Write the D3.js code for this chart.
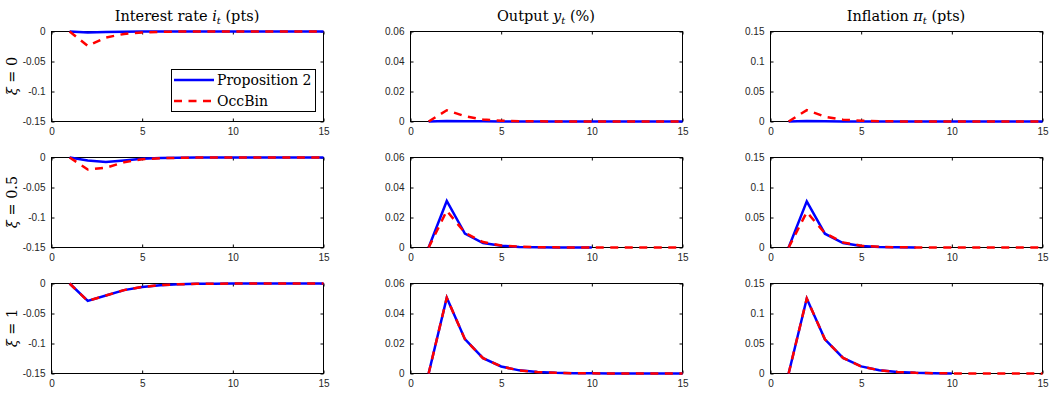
<!DOCTYPE html>
<html><head><meta charset="utf-8">
<script src="https://cdn.jsdelivr.net/npm/d3@7"></script>
<style>body{margin:0;background:#fff}svg{display:block}</style>
</head><body>
<svg id="c" width="1051" height="398"></svg>
<script>
const periods = [1,2,3,4,5,6,7,8,9,10,11,12,13,14,15];
const xTicks = [0,5,10,15];
const seriesNames = ["Proposition 2","OccBin"];
const rowLabels = ["0","0.5","1"];
const colTitles = [["Interest rate ","i","t"," (pts)"],["Output ","y","t"," (%)"],["Inflation ","π","t"," (pts)"]];
const yTicksInterest = [-0.15,-0.1,-0.05,0];
const yTicksOutput = [0,0.02,0.04,0.06];
const yTicksInflation = [0,0.05,0.1,0.15];
const yDomainInterest = [-0.15,0];
const yDomainOutput = [0,0.06];
const yDomainInflation = [0,0.15];

// xi = 0
const intProp_xi0 = [0,-0.0015,-0.0009,-0.0004,-0.0002,-0.0001,0,0,0,0,0,0,0,0,0];
const intOcc_xi0  = [0,-0.024,-0.010,-0.004,-0.0015,-0.0006,-0.0002,-0.0001,0,0,0,0,0,0,0];
const outProp_xi0 = [0,0.0003,0.0002,0.0001,0,0,0,0,0,0,0,0,0,0,0];
const outOcc_xi0  = [0,0.0075,0.0035,0.0013,0.0005,0.0002,0.0001,0,0,0,0,0,0,0,0];
const infProp_xi0 = [0,0.0008,0.0004,0.0002,0.0001,0,0,0,0,0,0,0,0,0,0];
const infOcc_xi0  = [0,0.019,0.008,0.003,0.0012,0.0005,0.0002,0.0001,0,0,0,0,0,0,0];
// xi = 0.5
const intProp_xi05 = [0,-0.005,-0.0075,-0.005,-0.002,-0.0008,-0.0003,-0.0001,0,0,0,0,0,0,0];
const intOcc_xi05  = [0,-0.020,-0.017,-0.008,-0.003,-0.0012,-0.0005,-0.0002,-0.0001,0,0,0,0,0,0];
const outProp_xi05 = [0,0.031,0.0093,0.003,0.0011,0.0004,0.00015,0.00005,0.00002,0.00001];
const outOcc_xi05  = [0,0.0245,0.0098,0.0036,0.0013,0.0005,0.0002,0.0001,0,0,0,0,0,0,0];
const infProp_xi05 = [0,0.077,0.023,0.0075,0.0026,0.0009,0.0003,0.0001];
const infOcc_xi05  = [0,0.059,0.024,0.0085,0.003,0.0011,0.0004,0.00015,0.00005,0,0,0,0,0,0];
// xi = 1
const intProp_xi1 = [0,-0.029,-0.020,-0.011,-0.0057,-0.0028,-0.0013,-0.0006,-0.0003,-0.00015,-0.00007,0,0,0,0];
const intOcc_xi1  = [0,-0.029,-0.020,-0.011,-0.0057,-0.0028,-0.0013,-0.0006,-0.0003,-0.00015,-0.00007,0,0,0,0];
const outProp_xi1 = [0,0.0505,0.0229,0.0102,0.0047,0.0021,0.001,0.00045,0.0002,0.0001,0.00005,0,0,0,0];
const outOcc_xi1  = [0,0.0505,0.0229,0.0102,0.0047,0.0021,0.001,0.00045,0.0002,0.0001,0.00005,0,0,0,0];
const infProp_xi1 = [0,0.125,0.057,0.026,0.0118,0.0054,0.0025,0.0011,0.0005,0.0002];
const infOcc_xi1  = [0,0.125,0.057,0.026,0.0118,0.0054,0.0025,0.0011,0.0005,0.0002,0,0,0,0,0];

const panels = [
  [[intProp_xi0,intOcc_xi0],[outProp_xi0,outOcc_xi0],[infProp_xi0,infOcc_xi0]],
  [[intProp_xi05,intOcc_xi05],[outProp_xi05,outOcc_xi05],[infProp_xi05,infOcc_xi05]],
  [[intProp_xi1,intOcc_xi1],[outProp_xi1,outOcc_xi1],[infProp_xi1,infOcc_xi1]]
];
const yDomains = [yDomainInterest,yDomainOutput,yDomainInflation];
const yTicks = [yTicksInterest,yTicksOutput,yTicksInflation];

const colLeft = [51,410,770], rowTop = [31,157,283], W = 272, H = 90;
const svg = d3.select("#c");
const serif = "'DejaVu Serif',serif";
const sans = "'Liberation Sans',Arial,sans-serif";
const tickLen = 3;

for (let r=0;r<3;r++){
  for (let c=0;c<3;c++){
    const g = svg.append("g").attr("transform",`translate(${colLeft[c]+0.5},${rowTop[r]+0.5})`);
    const x = d3.scaleLinear().domain([0,15]).range([0,W]);
    const y = d3.scaleLinear().domain(yDomains[c]).range([H,0]);
    const cid = `clip${r}${c}`;
    g.append("clipPath").attr("id",cid).append("rect").attr("x",-2).attr("y",-3).attr("width",W+4).attr("height",H+6);
    const fmt = d => d===0 ? "0" : String(d);
    const axB = d3.axisBottom(x).tickValues(xTicks).tickSizeInner(-tickLen).tickSizeOuter(0).tickPadding(6).tickFormat(d3.format("d"));
    const axT = d3.axisTop(x).tickValues(xTicks).tickSizeInner(-tickLen).tickSizeOuter(0).tickFormat("");
    const axL = d3.axisLeft(y).tickValues(yTicks[c]).tickSizeInner(-tickLen).tickSizeOuter(0).tickPadding(6).tickFormat(fmt);
    const axR = d3.axisRight(y).tickValues(yTicks[c]).tickSizeInner(-tickLen).tickSizeOuter(0).tickFormat("");
    [[axB,`translate(0,${H})`],[axT,"translate(0,0)"],[axL,"translate(0,0)"],[axR,`translate(${W},0)`]].forEach(([ax,t])=>{
      const a = g.append("g").attr("transform",t).call(ax);
      a.select(".domain").remove();
      a.selectAll("line").attr("stroke","#000").attr("stroke-width",1);
      a.selectAll("text").attr("font-family",sans).attr("font-size",10).attr("fill","#262626");
    });
    g.append("rect").attr("width",W).attr("height",H).attr("fill","none").attr("stroke","#000").attr("stroke-width",1);
    const line = d3.line().x((d,i)=>x(periods[i])).y(d=>y(d));
    const [blue,red] = panels[r][c];
    const lg = g.append("g").attr("clip-path",`url(#${cid})`);
    lg.append("path").attr("d",line(blue)).attr("fill","none").attr("stroke","#0000ff").attr("stroke-width",2.5);
    lg.append("path").attr("d",line(red)).attr("fill","none").attr("stroke","#ff0000").attr("stroke-width",2.5).attr("stroke-dasharray","8,6.5");
    if (r===0){
      const t = svg.append("text").attr("x",colLeft[c]+W/2).attr("y",21).attr("text-anchor","middle")
        .attr("font-family",serif).attr("font-size",14.5).attr("fill","#000");
      const p = colTitles[c];
      t.append("tspan").text(p[0]);
      t.append("tspan").attr("font-style","italic").text(p[1]);
      t.append("tspan").attr("font-style","italic").attr("font-size",10).attr("dy",3).text(p[2]);
      t.append("tspan").attr("dy",-3).text(p[3]);
    }
    if (c===0){
      const cy = rowTop[r]+H/2;
      const t = svg.append("text").attr("transform",`translate(17,${cy}) rotate(-90)`).attr("text-anchor","middle")
        .attr("font-family",serif).attr("font-size",14.5).attr("fill","#000");
      t.append("tspan").attr("font-style","italic").text("ξ");
      t.append("tspan").text(" = "+rowLabels[r]);
    }
  }
}
// legend
const lgd = svg.append("g");
lgd.append("rect").attr("x",171.5).attr("y",69.5).attr("width",144).attr("height",42).attr("fill","#fff").attr("stroke","#000").attr("stroke-width",1);
const lx = d3.scaleLinear().domain([0,1]).range([174,214]);
const legendY = [80,101];
seriesNames.forEach((name,i)=>{
  lgd.append("line").attr("x1",lx(0)).attr("x2",lx(1)).attr("y1",legendY[i]).attr("y2",legendY[i])
    .attr("stroke",i===0?"#0000ff":"#ff0000").attr("stroke-width",2.5).attr("stroke-dasharray",i===0?null:"8,6.5");
  lgd.append("text").attr("x",217).attr("y",legendY[i]+5).attr("font-family",serif).attr("font-size",14).attr("fill","#000").text(name);
});
</script>
</body></html>
